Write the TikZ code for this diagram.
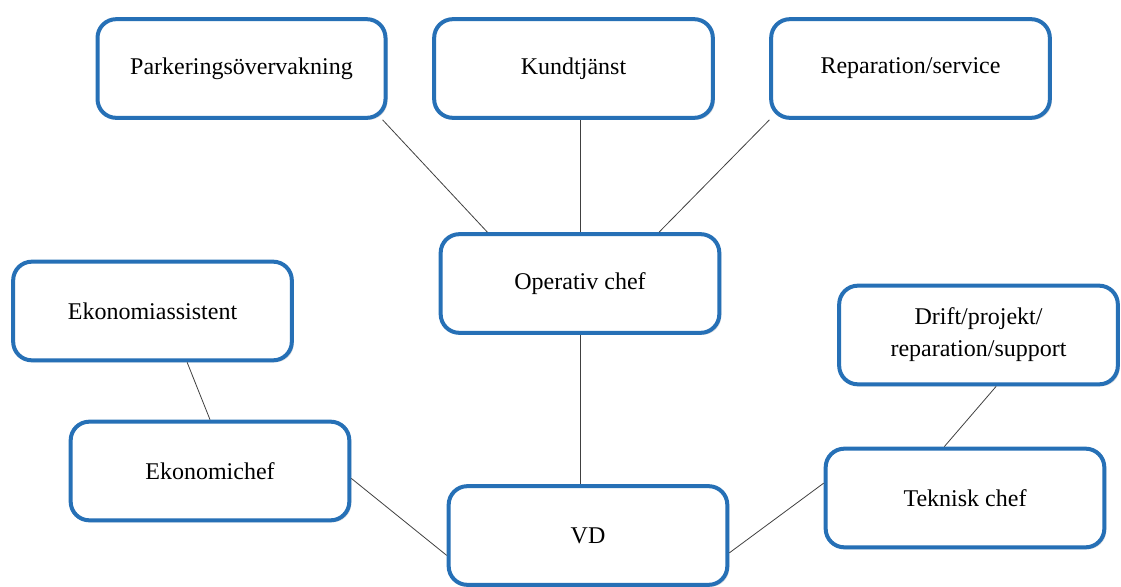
\documentclass[tikz,border=0pt]{standalone}
\usepackage{fontspec}
\setmainfont{Liberation Serif}
\usepackage{tikz}
\usetikzlibrary{shadows}
\definecolor{boxblue}{RGB}{38,112,182}

\begin{document}
\begin{tikzpicture}[x=0.75pt,y=-0.75pt,thin,font=\fontsize{18}{24}\selectfont]
    \tikzstyle{unit}=[rectangle,rounded corners=14pt,draw=boxblue,fill=white,line width=3pt,
        minimum width=209pt,minimum height=74pt,align=center,
        drop shadow={shadow xshift=1.5pt,shadow yshift=-1.5pt,opacity=0.25}]
    \tikzstyle{link}=[draw=black!75,line width=0.6pt]
    \useasboundingbox (0,0) rectangle (1121,586);

    \node[unit,minimum width=216pt] (PO) at (241.5,68.5) {Parkeringsövervakning};
    \node[unit] (KT) at (573.5,68.5) {Kundtjänst};
    \node[unit] (RS) at (910.5,68.5) {Reparation/service};
    \node[unit] (OC) at (580,283.5) {Operativ chef};
    \node[unit] (EA) at (152.5,311) {Ekonomiassistent};
    \node[unit] (DP) at (978.5,335) {Drift/projekt/\\reparation/support};
    \node[unit] (EC) at (210,471) {Ekonomichef};
    \node[unit] (VD) at (588,535.5) {VD};
    \node[unit] (TC) at (965,498) {Teknisk chef};

    \path[link]
        (PO.-20) edge (OC.151)
        (OC.north) edge (OC.north |- KT.south)
        (RS.200) edge (OC.33)
        (OC.south) edge (OC.south |- VD.north)
        (EA.-56) edge (EC.north)
        (EC.-3) edge (VD.188)
        (TC.174) edge (VD.-7)
        (DP.-71) edge (TC.112);
\end{tikzpicture}
\end{document}
